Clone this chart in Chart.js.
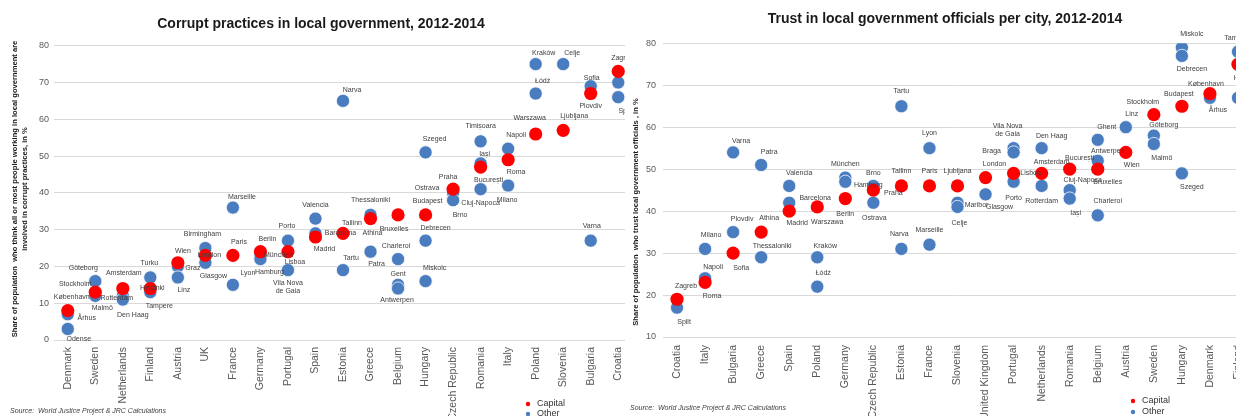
<!DOCTYPE html>
<html><head><meta charset="utf-8">
<script src="https://cdn.jsdelivr.net/npm/chart.js@4.4.1/dist/chart.umd.min.js"></script>
<style>
html,body{margin:0;padding:0;background:#fff;width:1236px;height:416px;overflow:hidden;}
.box{position:absolute;top:0;height:416px;overflow:hidden;}
#leftBox{left:0;width:625px;}
#rightBox{left:620px;width:616px;}
canvas{display:block;}
</style></head><body>
<div class="box" id="leftBox"><canvas id="c1" width="640" height="416"></canvas></div>
<div class="box" id="rightBox"><canvas id="c2" width="640" height="416"></canvas></div>
<script>
// ---------- Chart 1: corrupt practices ----------
const corruptCategories = ['Denmark','Sweden','Netherlands','Finland','Austria','UK','France','Germany','Portugal','Spain','Estonia','Greece','Belgium','Hungary','Czech Republic','Romania','Italy','Poland','Slovenia','Bulgaria','Croatia'];
const corruptCapitalCountry = ['Denmark','Sweden','Netherlands','Finland','Austria','UK','France','Germany','Portugal','Spain','Estonia','Greece','Belgium','Hungary','Czech Republic','Romania','Italy','Poland','Slovenia','Bulgaria','Croatia'];
const corruptCapitalCity = ['København','Stockholm','Amsterdam','Helsinki','Wien','London','Paris','Berlin','Lisboa','Madrid','Tallinn','Athina','Bruxelles','Budapest','Praha','București','Roma','Warszawa','Ljubljana','Sofia','Zagreb'];
const corruptCapitalValue = [8,13,14,14,21,23,23,24,24,28,29,33,34,34,41,47,49,56,57,67,73];
const corruptOtherCountry = ['Denmark','Denmark','Sweden','Sweden','Netherlands','Netherlands','Finland','Finland','Austria','Austria','UK','UK','France','France','Germany','Germany','Portugal','Portugal','Spain','Spain','Estonia','Estonia','Greece','Greece','Belgium','Belgium','Belgium','Hungary','Hungary','Hungary','Czech Republic','Czech Republic','Romania','Romania','Romania','Italy','Italy','Poland','Poland','Slovenia','Bulgaria','Bulgaria','Croatia','Croatia'];
const corruptOtherCity = ['Århus','Odense','Göteborg','Malmö','Rotterdam','Den Haag','Turku','Tampere','Graz','Linz','Birmingham','Glasgow','Marseille','Lyon','München','Hamburg','Porto','Vila Nova de Gaia','Valencia','Barcelona','Narva','Tartu','Thessaloniki','Patra','Charleroi','Gent','Antwerpen','Szeged','Debrecen','Miskolc','Ostrava','Brno','Timișoara','Iași','Cluj-Napoca','Napoli','Milano','Kraków','Łódź','Celje','Plovdiv','Varna','Rijeka','Split'];
const corruptOtherValue = [7,3,16,12,12,11,17,13,20,17,25,21,36,15,23,22,27,19,33,29,65,19,34,24,22,15,14,51,27,16,40,38,54,48,41,52,42,75,67,75,69,27,70,66];

// ---------- Chart 2: trust ----------
const trustCategories = ['Croatia','Italy','Bulgaria','Greece','Spain','Poland','Germany','Czech Republic','Estonia','France','Slovenia','United Kingdom','Portugal','Netherlands','Romania','Belgium','Austria','Sweden','Hungary','Denmark','Finland'];
const trustCapitalCountry = ['Croatia','Italy','Bulgaria','Greece','Spain','Poland','Germany','Czech Republic','Estonia','France','Slovenia','United Kingdom','Portugal','Netherlands','Romania','Belgium','Austria','Sweden','Hungary','Denmark','Finland'];
const trustCapitalCity = ['Zagreb','Roma','Sofia','Athina','Madrid','Warszawa','Berlin','Praha','Tallinn','Paris','Ljubljana','London','Lisboa','Amsterdam','București','Bruxelles','Wien','Stockholm','Budapest','København','Helsinki'];
const trustCapitalValue = [19,23,30,35,40,41,43,45,46,46,46,48,49,49,50,50,54,63,65,68,75];
const trustOtherCountry = ['Croatia','Italy','Italy','Bulgaria','Bulgaria','Greece','Greece','Spain','Spain','Poland','Poland','Germany','Germany','Czech Republic','Czech Republic','Estonia','Estonia','France','France','Slovenia','Slovenia','United Kingdom','Portugal','Portugal','Portugal','Netherlands','Netherlands','Romania','Romania','Belgium','Belgium','Belgium','Austria','Sweden','Sweden','Hungary','Hungary','Hungary','Denmark','Finland','Finland'];
const trustOtherCity = ['Split','Milano','Napoli','Varna','Plovdiv','Patra','Thessaloniki','Valencia','Barcelona','Kraków','Łódź','München','Hamburg','Brno','Ostrava','Tartu','Narva','Lyon','Marseille','Maribor','Celje','Glasgow','Vila Nova de Gaia','Braga','Porto','Den Haag','Rotterdam','Cluj-Napoca','Iași','Ghent','Antwerpen','Charleroi','Linz','Göteborg','Malmö','Miskolc','Debrecen','Szeged','Århus','Tampere','Turku'];
const trustOtherValue = [17,31,24,54,35,51,29,46,42,29,22,48,47,46,42,65,31,55,32,42,41,44,55,54,47,55,46,45,43,57,52,39,60,58,56,79,77,49,67,78,67];

// ---------- label placement (style) ----------
const corruptLabelOffsets = {
 'København':[4,-14],'Århus':[19,4],'Odense':[11,10],'Göteborg':[-12,-13],'Stockholm':[-20,-8],'Malmö':[7,12],
 'Amsterdam':[1,-15],'Rotterdam':[-6,2],'Den Haag':[10,16],'Turku':[-1,-14],'Helsinki':[2,0],'Tampere':[9,14],
 'Wien':[5,-12],'Graz':[15,2],'Linz':[6,13],'Birmingham':[-3,-14],'London':[4,0],'Glasgow':[8,13],
 'Marseille':[9,-11],'Paris':[6,-13],'Lyon':[15,-12],'Berlin':[7,-13],'München':[18,0],'Hamburg':[9,13],
 'Porto':[-1,-15],'Lisboa':[7,10],'Vila Nova de Gaia':[0,17],'Valencia':[0,-14],'Barcelona':[25,0],'Madrid':[9,12],
 'Narva':[9,-11],'Tallinn':[9,-10],'Tartu':[8,-12],'Thessaloniki':[0,-15],'Athina':[2,14],'Patra':[6,12],
 'Bruxelles':[-4,14],'Charleroi':[-2,-13],'Gent':[0,-11],'Antwerpen':[-1,12],'Szeged':[9,-13],'Budapest':[2,-14],
 'Debrecen':[10,-13],'Miskolc':[9,-13],'Praha':[-5,-12],'Ostrava':[-26,-5],'Brno':[7,15],'Timișoara':[0,-15],
 'Iași':[4,-9],'București':[8,13],'Cluj-Napoca':[0,14],'Napoli':[8,-14],'Roma':[8,12],'Milano':[-1,15],
 'Kraków':[8,-11],'Łódź':[7,-12],'Warszawa':[-6,-16],'Celje':[9,-11],'Ljubljana':[11,-14],'Sofia':[1,-15],
 'Plovdiv':[0,20],'Varna':[1,-15],'Zagreb':[4,-13],'Split':[7,14]
};
const trustLabelOffsets = {
 'Zagreb':[9,-13],'Split':[7,14],'Milano':[6,-14],'Napoli':[8,-11],'Roma':[7,14],'Plovdiv':[9,-13],'Sofia':[8,15],
 'Varna':[8,-11],'Patra':[8,-13],'Athina':[8,-14],'Thessaloniki':[11,-11],'Valencia':[10,-13],'Barcelona':[26,-5],
 'Madrid':[8,12],'Warszawa':[10,15],'Kraków':[8,-11],'Łódź':[6,-14],'München':[0,-14],'Hamburg':[23,3],'Berlin':[0,16],
 'Brno':[0,-13],'Praha':[20,3],'Ostrava':[1,15],'Tartu':[0,-15],'Tallinn':[0,-15],'Narva':[-2,-15],'Lyon':[0,-15],
 'Paris':[0,-15],'Marseille':[0,-15],'Ljubljana':[0,-15],'Maribor':[19,2],'Celje':[2,16],'London':[9,-14],'Glasgow':[14,13],
 'Braga':[-22,-1],'Vila Nova de Gaia':[-6,-18],'Lisboa':[17,0],'Porto':[0,16],'Den Haag':[10,-12],'Amsterdam':[10,-11],
 'Rotterdam':[0,15],'București':[10,-11],'Cluj-Napoca':[13,-10],'Iași':[6,15],'Ghent':[9,-13],'Antwerpen':[10,-10],
 'Bruxelles':[10,13],'Charleroi':[10,-14],'Linz':[6,-13],'Wien':[6,13],'Stockholm':[-11,-13],'Göteborg':[10,-11],
 'Malmö':[8,14],'Miskolc':[10,-13],'Debrecen':[10,13],'Budapest':[-3,-12],'Szeged':[10,14],'København':[-4,-10],
 'Århus':[8,12],'Tampere':[0,-14],'Helsinki':[8,14]
};
const labelWrap = {'Vila Nova de Gaia':['Vila Nova','de Gaia']};

const FONT = '"Liberation Sans", Arial, sans-serif';
const RED = '#ff0000';
const BLUE = '#4a7dc0';
Chart.defaults.font.family = FONT;

const cityLabelPlugin = {
  id: 'cityLabels',
  afterDatasetsDraw(chart, args, o) {
    const ctx = chart.ctx;
    ctx.save();
    ctx.font = '7px ' + FONT;
    ctx.fillStyle = '#404040';
    ctx.textAlign = 'center';
    ctx.textBaseline = 'middle';
    chart.data.datasets.forEach((ds, di) => {
      const meta = chart.getDatasetMeta(di);
      meta.data.forEach((pt, i) => {
        const name = ds.cities[i];
        const off = o.offsets[name];
        if (!off) return;
        const lines = labelWrap[name] || [name];
        lines.forEach((ln, k) => {
          ctx.fillText(ln, pt.x + off[0], pt.y + off[1] + (k - (lines.length - 1) / 2) * 8);
        });
      });
    });
    ctx.restore();
  }
};

const annotPlugin = {
  id: 'annot',
  afterDraw(chart, args, o) {
    const ctx = chart.ctx;
    ctx.save();
    ctx.fillStyle = '#1a1a1a';
    ctx.textAlign = 'center';
    ctx.textBaseline = 'middle';
    ctx.font = 'bold 14px ' + FONT;
    ctx.fillText(o.title, o.titleX, o.titleY);
    ctx.font = 'bold 7.6px ' + FONT;
    o.yTitle.forEach((ln, k) => {
      ctx.save();
      ctx.translate(o.yTitleX[k], o.yTitleY);
      ctx.rotate(-Math.PI / 2);
      ctx.fillText(ln, 0, 0);
      ctx.restore();
    });
    ctx.textAlign = 'left';
    ctx.fillStyle = '#404040';
    ctx.font = 'italic 7px ' + FONT;
    ctx.fillText(o.source, o.sourceX, o.sourceY);
    ctx.font = '9px ' + FONT;
    chart.data.datasets.forEach((ds, i) => {
      const y = o.legendY + i * o.legendGap;
      ctx.fillStyle = ds.backgroundColor;
      ctx.beginPath();
      ctx.arc(o.legendX, y, 2.2, 0, Math.PI * 2);
      ctx.fill();
      ctx.fillStyle = '#333';
      ctx.fillText(ds.label, o.legendX + 9, y);
    });
    ctx.restore();
  }
};

function makeChart(id, cats, capCountry, capCity, capVal, othCountry, othCity, othVal, yMin, yMax, g, offsets, annot) {
  return new Chart(document.getElementById(id), {
    type: 'scatter',
    data: {
      datasets: [
        { label: 'Capital', data: capCountry.map((c, i) => ({ x: c, y: capVal[i] })), cities: capCity,
          backgroundColor: RED, borderColor: RED, borderWidth: 0, pointRadius: 6.6, pointHoverRadius: 6.6 },
        { label: 'Other', data: othCountry.map((c, i) => ({ x: c, y: othVal[i] })), cities: othCity,
          backgroundColor: BLUE, borderColor: 'rgba(255,255,255,0.75)', borderWidth: 1, pointRadius: 6.6, pointHoverRadius: 6.6 }
      ]
    },
    options: {
      responsive: false, animation: false, devicePixelRatio: 1,
      layout: { padding: { top: g.top, right: g.right, left: 0, bottom: 0 } },
      plugins: { legend: { display: false }, tooltip: { enabled: false }, title: { display: false },
        cityLabels: { offsets: offsets }, annot: annot },
      scales: {
        x: { type: 'category', labels: cats, offset: true,
          grid: { display: false, drawTicks: false }, border: { display: false },
          ticks: { autoSkip: false, maxRotation: 90, minRotation: 90, padding: g.xPad, color: '#595959', font: { size: 10.5 } },
          afterFit(s) { s.height = 416 - g.bottom; } },
        y: { min: yMin, max: yMax,
          ticks: { stepSize: 10, padding: g.yPad, color: '#595959', font: { size: 9 } },
          grid: { color: '#d9d9d9', drawTicks: false }, border: { display: false },
          afterFit(s) { s.width = g.left; } }
      }
    },
    plugins: [cityLabelPlugin, annotPlugin]
  });
}

makeChart('c1', corruptCategories, corruptCapitalCountry, corruptCapitalCity, corruptCapitalValue,
  corruptOtherCountry, corruptOtherCity, corruptOtherValue, 0, 80,
  { top: 45.7, right: 8, left: 54, bottom: 340, xPad: 7, yPad: 5 }, corruptLabelOffsets,
  { title: 'Corrupt practices in local government, 2012-2014', titleX: 321, titleY: 24,
    yTitle: ['Share of population  who think all or most people working in local government are', 'involved in corrupt practices, in %'],
    yTitleX: [15, 25], yTitleY: 189,
    source: 'Source:  World Justice Project & JRC Calculations', sourceX: 10, sourceY: 411,
    legendX: 528, legendY: 404, legendGap: 10 });

makeChart('c2', trustCategories, trustCapitalCountry, trustCapitalCity, trustCapitalValue,
  trustOtherCountry, trustOtherCity, trustOtherValue, 10, 80,
  { top: 43.3, right: 8, left: 43, bottom: 337, xPad: 8, yPad: 7 }, trustLabelOffsets,
  { title: 'Trust in local government officials per city, 2012-2014', titleX: 325, titleY: 19,
    yTitle: ['Share of population  who trust local government officials , in %'],
    yTitleX: [16], yTitleY: 212,
    source: 'Source:  World Justice Project & JRC Calculations', sourceX: 10, sourceY: 408,
    legendX: 513, legendY: 401, legendGap: 11 });
</script>
</body></html>
